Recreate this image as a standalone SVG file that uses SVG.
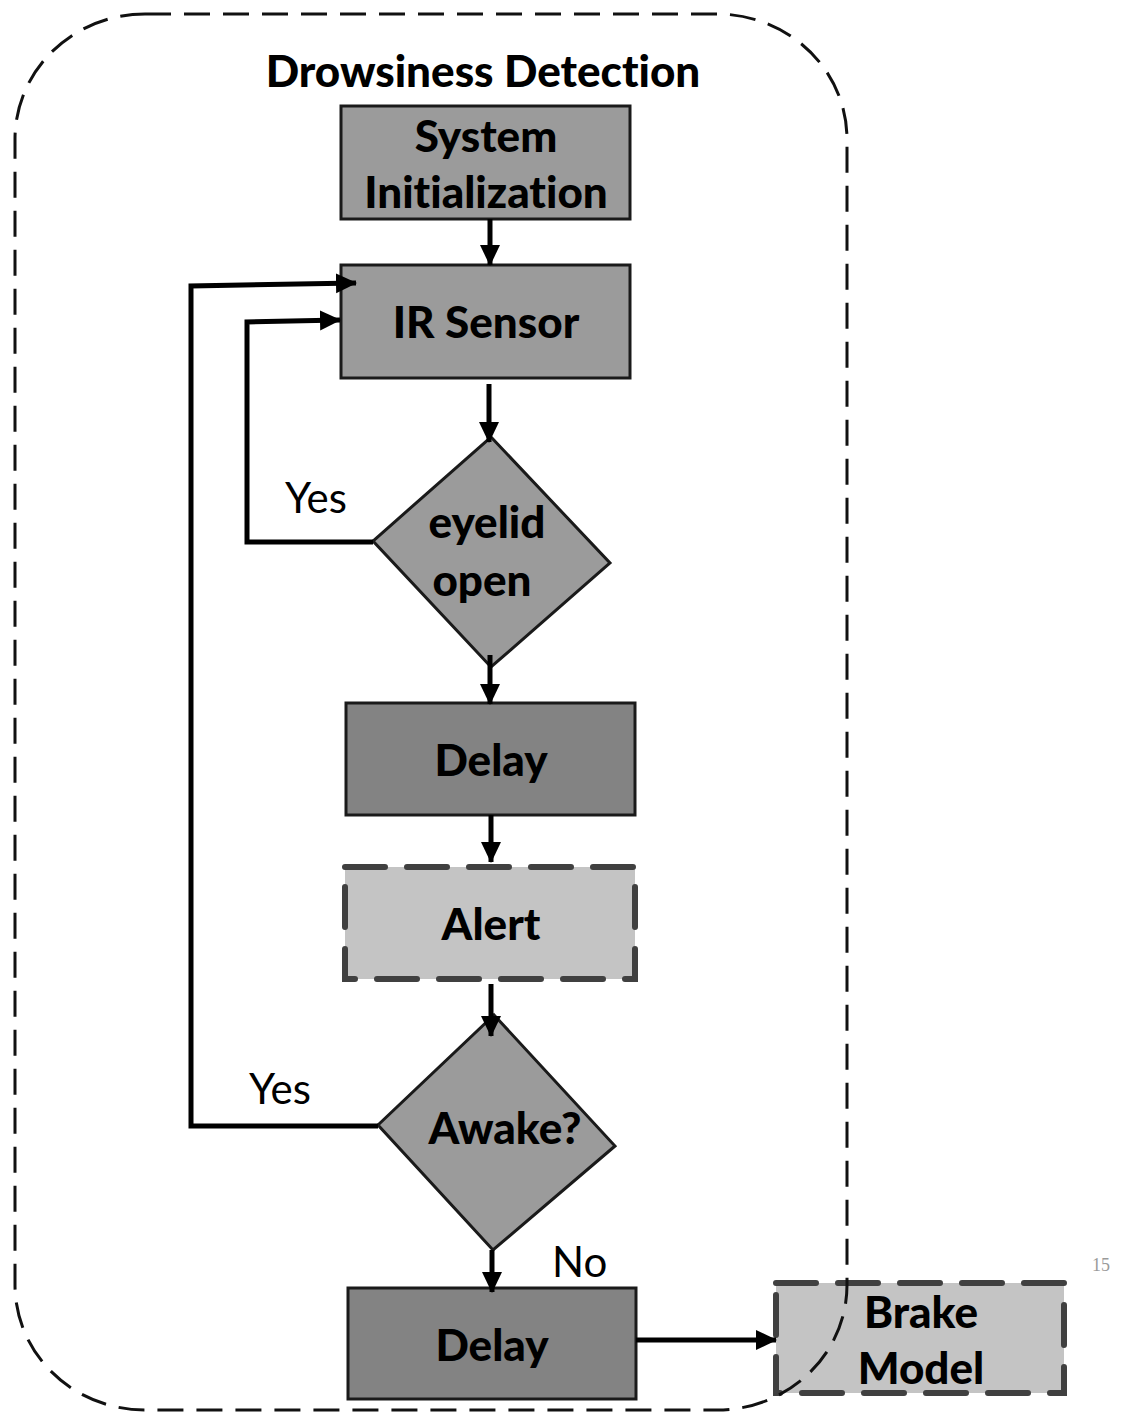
<svg xmlns="http://www.w3.org/2000/svg" width="1125" height="1414" viewBox="0 0 1125 1414">
  <defs>
    <style>
      .lbl { font-family: Lato, "Liberation Sans", sans-serif; font-weight: 900; font-size: 44px; fill: #000; text-anchor: middle; font-variant-ligatures: none; }
      .tag { font-family: Lato, "Liberation Sans", sans-serif; font-size: 42px; fill: #000; }
      .proc { fill: #9b9b9b; stroke: #1a1a1a; stroke-width: 3; }
      .wait { fill: #838383; stroke: #1a1a1a; stroke-width: 3; }
      .ext { fill: #c4c4c4; stroke: #404040; stroke-width: 6; stroke-dasharray: 40 22; stroke-linecap: round; }
      .flow { fill: none; stroke: #000; stroke-width: 5; }
      .frame { fill: none; stroke: #111; stroke-width: 3; stroke-dasharray: 26 13; }
    </style>
    <marker id="arrow" markerUnits="userSpaceOnUse" markerWidth="22" markerHeight="22" viewBox="0 0 22 22" refX="20" refY="11" orient="auto">
      <path d="M0,1 L21,11 L0,21 Z" fill="#000"/>
    </marker>
  </defs>

  <rect width="1125" height="1414" fill="#fff"/>

  <text class="lbl" x="483" y="87" font-size="42">Drowsiness Detection</text>

  <g id="node-init">
    <rect class="proc" x="341" y="106" width="289" height="113"/>
    <text class="lbl" x="486" y="152">System</text>
    <text class="lbl" x="486" y="208">Initialization</text>
  </g>

  <g id="node-ir">
    <rect class="proc" x="341" y="265" width="289" height="113"/>
    <text class="lbl" x="486" y="338">IR Sensor</text>
  </g>

  <g id="node-eyelid">
    <polygon class="proc" points="491,437 610,563 491,667 373,541"/>
    <text class="lbl" x="487" y="538">eyelid</text>
    <text class="lbl" x="482" y="596">open</text>
  </g>

  <g id="node-delay1">
    <rect class="wait" x="346" y="703" width="289" height="112"/>
    <text class="lbl" x="491" y="776">Delay</text>
  </g>

  <g id="node-alert">
    <rect class="ext" x="345" y="867" width="290" height="112"/>
    <text class="lbl" x="491" y="940">Alert</text>
  </g>

  <g id="node-awake">
    <polygon class="proc" points="494,1015 615,1146 493,1250 378,1125"/>
    <text class="lbl" x="505" y="1144">Awake?</text>
  </g>

  <g id="node-delay2">
    <rect class="wait" x="348" y="1288" width="288" height="111"/>
    <text class="lbl" x="492" y="1361">Delay</text>
  </g>

  <g id="node-brake">
    <rect class="ext" x="776" y="1283" width="288" height="110"/>
    <text class="lbl" x="921" y="1328">Brake</text>
    <text class="lbl" x="921" y="1384">Model</text>
  </g>

  <g id="connectors">
    <line class="flow" x1="490" y1="219" x2="490" y2="265" marker-end="url(#arrow)"/>
    <line class="flow" x1="489" y1="384" x2="489" y2="442" marker-end="url(#arrow)"/>
    <polyline class="flow" points="373,542 247,542 247,322 340,320" marker-end="url(#arrow)"/>
    <polyline class="flow" points="378,1126 191,1126 191,286 356,283" marker-end="url(#arrow)"/>
    <line class="flow" x1="490" y1="655" x2="490" y2="704" marker-end="url(#arrow)"/>
    <line class="flow" x1="491" y1="815" x2="491" y2="862" marker-end="url(#arrow)"/>
    <line class="flow" x1="491" y1="984" x2="491" y2="1036" marker-end="url(#arrow)"/>
    <line class="flow" x1="492" y1="1250" x2="492" y2="1292" marker-end="url(#arrow)"/>
    <line class="flow" x1="636" y1="1340" x2="776" y2="1340" marker-end="url(#arrow)"/>
    <text class="tag" x="285" y="513">Yes</text>
    <text class="tag" x="249" y="1104">Yes</text>
    <text class="tag" x="552" y="1277">No</text>
  </g>

  <rect class="frame" x="15" y="14" width="832" height="1396" rx="130" ry="125"/>

  <text x="1101" y="1271" font-family="Liberation Serif, serif" font-size="18" fill="#9a9a9a" text-anchor="middle">15</text>
</svg>
